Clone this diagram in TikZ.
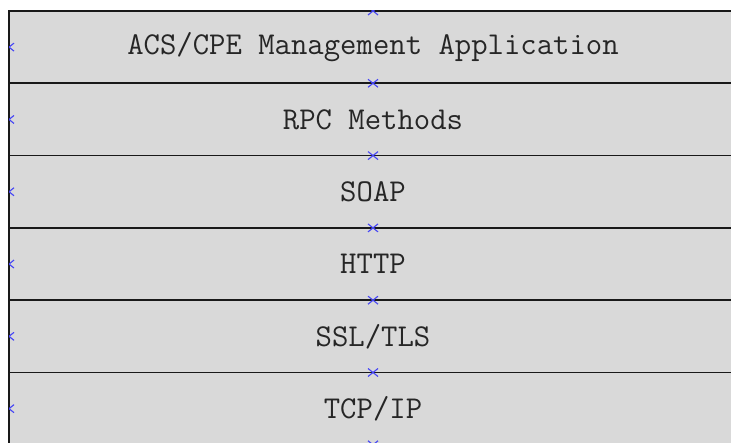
\documentclass[tikz,border=0pt]{standalone}
\usepackage{fontspec}
\usetikzlibrary{positioning}
\definecolor{capaGris}{HTML}{D9D9D9}
\definecolor{marcaAzul}{HTML}{4646F5}
\tikzset{
  capa/.style={draw=black!90, line width=1.8pt, fill=capaGris, outer sep=0pt, inner sep=0pt,
    minimum width=728pt, minimum height=72.3pt,
    font=\ttfamily\addfontfeatures{FakeBold=0.7}\fontsize{31.8}{32}\selectfont, text=black!85},
  marca/.pic={\draw[marcaAzul, line width=1.1pt] (-5,-4)--(5,4) (-5,4)--(5,-4);}
}
\begin{document}
\begin{tikzpicture}[x=1pt,y=-1pt]
  \useasboundingbox (0,0) rectangle (731,443);
  \clip (0,0) rectangle (731,443);
  % pila de capas, de arriba abajo
  \foreach \i/\t in {1/{ACS/CPE Management Application},2/{RPC Methods},3/{SOAP},
                     4/{HTTP},5/{SSL/TLS},6/{TCP/IP}}
    {\node[capa] (l\i) at (373,{47.15+72.3*(\i-1)}) {\t};}
  % puntos de conexion
  \begin{scope}
    \clip (l1.north west) rectangle (l6.south east);
    \foreach \i in {1,...,6}
      {\pic at (l\i.north) {marca}; \pic at (l\i.west) {marca};}
    \pic at (l6.south) {marca};
  \end{scope}
\end{tikzpicture}
\end{document}
